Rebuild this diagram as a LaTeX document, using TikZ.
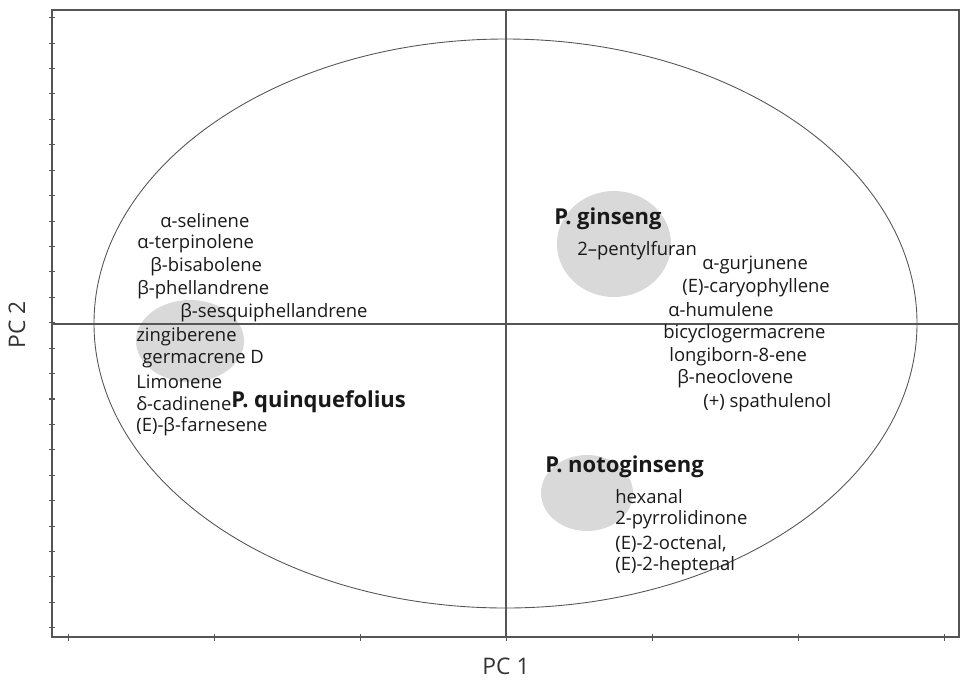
\documentclass[tikz,border=0pt]{standalone}
\usepackage{fontspec}
\setmainfont{Open Sans}
\definecolor{blobgrey}{HTML}{D9D9D9}
\definecolor{axisgrey}{HTML}{555555}

\begin{document}
\begin{tikzpicture}
  [x=0.02cm,y=-0.02cm,
   every node/.style={inner sep=0pt,anchor=west,font=\fontsize{10.5}{12}\selectfont,text=black!90},
   species/.style={font=\fontsize{12.5}{14}\selectfont\bfseries},
   axlabel/.style={anchor=center,font=\fontsize{13}{15}\selectfont,text=black!80}]
  \useasboundingbox (0,0) rectangle (960,684);

  % group areas
  \fill[blobgrey] (614,244) ellipse [x radius=57,y radius=53];
  \fill[blobgrey] (190,341) ellipse [x radius=54,y radius=41];
  \fill[blobgrey] (587,493) ellipse [x radius=46,y radius=38];

  % frame, axes, ticks
  \draw[axisgrey,line width=0.6pt] (52,10) rectangle (959,637);
  \draw[axisgrey,line width=0.6pt] (52,324) -- (959,324);
  \draw[axisgrey,line width=0.6pt] (506,10) -- (506,637);
  \foreach \i in {0,...,24}
    \draw[axisgrey,line width=0.6pt] (49,{17.7+25.42*\i}) -- (55,{17.7+25.42*\i});
  \foreach \i in {0,...,6}
    \draw[axisgrey,line width=0.6pt] ({68.7+146*\i},634) -- ({68.7+146*\i},641);

  % confidence ellipse
  \draw[axisgrey,line width=0.5pt] (505.5,323.5) ellipse [x radius=411.5,y radius=284.5];

  % P. quinquefolius
  \node (sel)   at (160,221) {α-selinene};
  \node (terp)  at (137,244) {α-terpinolene};
  \node (bisa)  at (150,267) {β-bisabolene};
  \node (phel)  at (137,290) {β-phellandrene};
  \node (sesq)  at (180,313) {β-sesquiphellandrene};
  \node (zing)  at (136,337) {zingiberene};
  \node (germ)  at (142,359) {germacrene D};
  \node (limo)  at (136,382) {Limonene};
  \node (cadi)  at (136,404) {δ-cadinene};
  \node (farn)  at (136,427) {(E)-β-farnesene};
  \node[species] (quin) at (231,402) {P. quinquefolius};

  % P. ginseng
  \node[species] (gins) at (554,219) {P. ginseng};
  \node (pent)  at (577,251) {2–pentylfuran};
  \node (gurj)  at (702,265) {α-gurjunene};
  \node (cary)  at (682,288) {(E)-caryophyllene};
  \node (humu)  at (668,310) {α-humulene};
  \node (bicy)  at (663,334) {bicyclogermacrene};
  \node (long)  at (669,357) {longiborn-8-ene};
  \node (neoc)  at (677,379) {β-neoclovene};
  \node (spat)  at (703,403) {(+) spathulenol};

  % P. notoginseng
  \node[species] (noto) at (545,467) {P. notoginseng};
  \node (hexa)  at (615,497) {hexanal};
  \node (pyrr)  at (615,520) {2-pyrrolidinone};
  \node (octe)  at (615,544) {(E)-2-octenal,};
  \node (hept)  at (615,566) {(E)-2-heptenal};

  % axis titles
  \node[axlabel] (pc1) at (506,666) {PC 1};
  \node[axlabel,rotate=90] (pc2) at (17,325) {PC 2};
\end{tikzpicture}
\end{document}
